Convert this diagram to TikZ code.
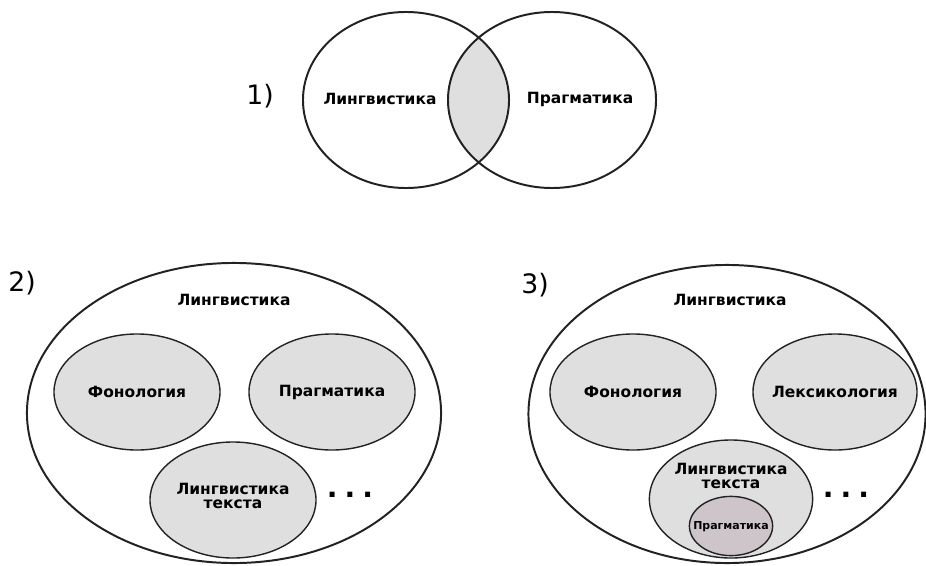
\documentclass[tikz,border=0pt]{standalone}
\usepackage{fontspec}
\setmainfont{DejaVu Sans}
\usepackage{xcolor}
\usepackage{tikz}
\usetikzlibrary{shapes.geometric}

\definecolor{fillgray}{HTML}{DFDFDF}
\definecolor{fillmauve}{HTML}{CEC5CB}
\definecolor{linegray}{HTML}{222222}

\begin{document}
\begin{tikzpicture}[x=0.025cm, y=-0.025cm,
				outer/.style={ellipse, draw=linegray, line width=1.4pt, inner sep=0pt},
				inner/.style={ellipse, draw=linegray, line width=1pt, fill=fillgray, inner sep=0pt,
					minimum width=4.15cm, minimum height=2.9cm},
				lbl/.style={font=\bfseries\fontsize{11}{12.5}\selectfont, align=center, inner sep=0pt},
				num/.style={font=\fontsize{19}{22}\selectfont, inner sep=0pt},
				dots/.style={font=\bfseries\fontsize{20}{24}\selectfont, inner sep=0pt}]
				\useasboundingbox (0,0) rectangle (926,565);
				% 1)
				\begin{scope}
					\clip (406,100) ellipse [x radius=2.575cm, y radius=2.2cm];
					\fill[fillgray] (552,100) ellipse [x radius=2.6cm, y radius=2.2cm];
				\end{scope}
				\node at (406,100) (ling1) [outer, minimum width=5.15cm, minimum height=4.4cm] {};
				\node at (552,100) (prag1) [outer, minimum width=5.2cm, minimum height=4.4cm] {};
				\node at (260,96) (n1) [num] {1)};
				\node at (380,99) (l1) [lbl] {Лингвистика};
				\node at (580,99) (p1) [lbl] {Прагматика};
				% 2)
				\node at (234,413) (ling2) [outer, minimum width=10.35cm, minimum height=7.5cm] {};
				\node at (22,283) (n2) [num] {2)};
				\node at (234,300) (l2) [lbl] {Лингвистика};
				\node at (137,392) (fon2) [inner] {};
				\node at (137,392) [lbl] {Фонология};
				\node at (332,392) (prag2) [inner] {};
				\node at (332,392) [lbl] {Прагматика};
				\node at (233,500) (lt2) [inner] {};
				\node at (233,496) [lbl] {Лингвистика\\[-2pt]текста};
				\node at (350,495) (d2) [dots] {.\hspace{5pt}.\hspace{5pt}.};
				% 3)
				\node at (727,414) (ling3) [outer, minimum width=9.925cm, minimum height=7.45cm] {};
				\node at (535,285) (n3) [num] {3)};
				\node at (730,300) (l3) [lbl] {Лингвистика};
				\node at (633,392) (fon3) [inner] {};
				\node at (633,392) [lbl] {Фонология};
				\node at (835,392) (lex3) [inner, minimum width=4.1cm] {};
				\node at (835,392) [lbl] {Лексикология};
				\node at (731,499) (lt3) [inner, minimum width=4.08cm, minimum height=2.95cm] {};
				\node at (731,476) [lbl] {Лингвистика\\[-2pt]текста};
				\node at (731,526) (prag3) [inner, fill=fillmauve, minimum width=2.08cm, minimum height=1.48cm] {};
				\node at (731,527) [lbl, font=\bfseries\fontsize{7.8}{9}\selectfont] {Прагматика};
				\node at (846,495) (d3) [dots] {.\hspace{5pt}.\hspace{5pt}.};
			\end{tikzpicture}
\end{document}
